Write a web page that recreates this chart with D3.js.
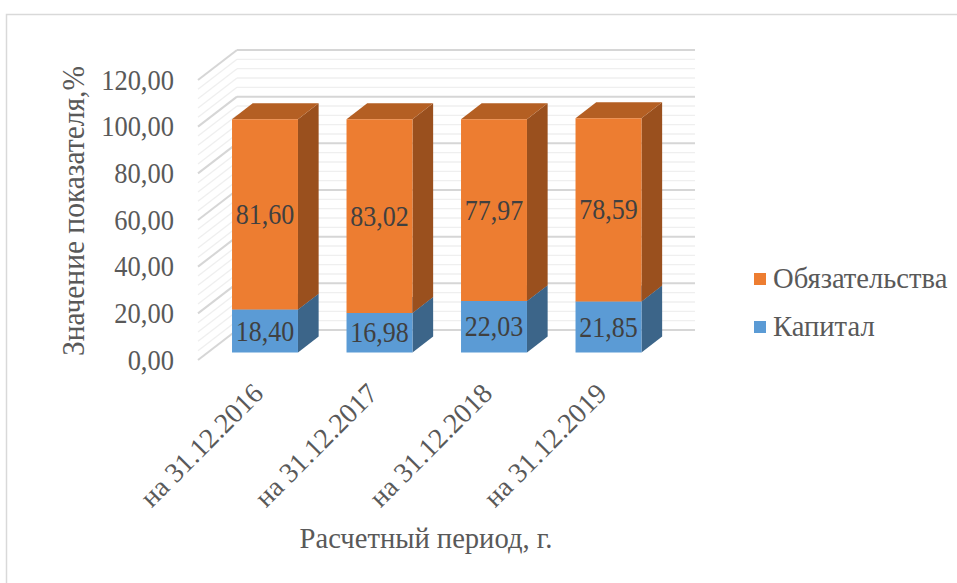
<!DOCTYPE html>
<html><head><meta charset="utf-8">
<script src="https://cdn.jsdelivr.net/npm/d3@7"></script>
<style>html,body{margin:0;padding:0;background:#fff;} svg{display:block;}</style>
</head><body>
<svg id="chart" width="957" height="583"></svg>
<script>
const categories = ["на 31.12.2016", "на 31.12.2017", "на 31.12.2018", "на 31.12.2019"];
const capital = [18.40, 16.98, 22.03, 21.85];
const liabilities = [81.60, 83.02, 77.97, 78.59];
const yTicks = [0, 20, 40, 60, 80, 100, 120];
const seriesNames = ["Обязательства", "Капитал"];
const yTitle = "Значение показателя,%";
const xTitle = "Расчетный период, г.";

const svg = d3.select("#chart");
const fmt = v => d3.format(".2f")(v).replace(".", ",");

// frame
svg.append("rect").attr("x", 6.5).attr("y", 14.5).attr("width", 1000).attr("height", 1000)
  .attr("fill", "none").attr("stroke", "#d9d9d9").attr("stroke-width", 1.5);

// back-wall scales
const y = d3.scaleLinear().domain([0, 120]).range([330, 50]);
const x = d3.scaleBand().domain(categories).range([237, 695]).paddingInner(0.424).paddingOuter(0.212);
const DX = -39, DY = 30; // back -> front depth vector
const tF = 0.75, tB = 0.22;

// gridlines: minor then major
const minor = d3.range(0, 121, 4).filter(v => v % 20 !== 0);
const grid = svg.append("g");
function gridLine(v, color, w) {
  grid.append("line").attr("x1", 237).attr("x2", 695).attr("y1", y(v)).attr("y2", y(v))
    .attr("stroke", color).attr("stroke-width", w);
  grid.append("line").attr("x1", 237).attr("y1", y(v)).attr("x2", 237 + DX).attr("y2", y(v) + DY)
    .attr("stroke", color).attr("stroke-width", w);
}
minor.forEach(v => gridLine(v, "#efefef", 1.3));
yTicks.forEach(v => gridLine(v, "#d6d6d6", 2));

// bars
const series = [
  {vals: capital, front: "#5b9bd5", top: "#4a7fb0", side: "#3c6589"},
  {vals: liabilities, front: "#ed7d31", top: "#b45f23", side: "#9a501e"}
];
const bars = svg.append("g");
const pt = (px, py, t) => [px + DX * t, py + DY * t];
categories.forEach((c, i) => {
  let base = 0;
  series.forEach(s => {
    const v0 = base, v1 = base + s.vals[i];
    base = v1;
    const xl = x(c), xr = x(c) + x.bandwidth();
    const fTL = pt(xl, y(v1), tF), fTR = pt(xr, y(v1), tF), fBR = pt(xr, y(v0), tF), fBL = pt(xl, y(v0), tF);
    const bTL = pt(xl, y(v1), tB), bTR = pt(xr, y(v1), tB), bBR = pt(xr, y(v0), tB);
    const poly = p => "M" + p.map(q => q.join(",")).join("L") + "Z";
    bars.append("path").attr("d", poly([fTR, bTR, bBR, fBR])).attr("fill", s.side);
    bars.append("path").attr("d", poly([fTL, bTL, bTR, fTR])).attr("fill", s.top);
    bars.append("path").attr("d", poly([fTL, fTR, fBR, fBL])).attr("fill", s.front);
  });
});

function txt(g, str, tx, ty, opts) {
  opts = opts || {};
  const sy = opts.sy || 1, rot = opts.rot || 0;
  return g.append("text")
    .attr("transform", `translate(${tx},${ty}) rotate(${rot}) scale(1,${sy})`)
    .attr("text-anchor", opts.anchor || "middle")
    .style("font-family", '"Liberation Serif", "DejaVu Serif", serif')
    .style("font-size", (opts.size || 26) + "px")
    .attr("fill", opts.color || "#595959").text(str);
}

// data labels
const labels = svg.append("g");
categories.forEach((c, i) => {
  const cx = x(c) + x.bandwidth() / 2 + DX * tF;
  let base = 0;
  series.forEach(s => {
    const mid = base + s.vals[i] / 2;
    base += s.vals[i];
    txt(labels, fmt(s.vals[i]), cx, y(mid) + DY * tF + 9.5, {size: 26, sy: 1.1, color: "#404040"});
  });
});

// y tick labels (front plane)
const ax = svg.append("g");
yTicks.forEach(v => {
  txt(ax, fmt(v), 174, y(v) + DY + 9.5, {size: 26.5, sy: 1.08, anchor: "end"});
});

// x tick labels
categories.forEach(c => {
  const cx = x(c) + x.bandwidth() / 2 + DX * tF;
  txt(ax, c, cx, 395, {size: 28, rot: -45, anchor: "end"});
});

// axis titles
txt(svg, xTitle, 426, 548, {size: 28.6, sy: 1.05});
txt(svg, yTitle, 84, 211, {size: 29.5, sy: 1.05, rot: -90});

// legend
const legend = svg.append("g");
[{n: seriesNames[0], c: "#ed7d31", y: 279}, {n: seriesNames[1], c: "#5b9bd5", y: 327}].forEach(d => {
  legend.append("rect").attr("x", 754).attr("y", d.y - 6).attr("width", 12).attr("height", 12).attr("fill", d.c);
  txt(legend, d.n, 773, d.y + 9, {size: 28.6, sy: 1.05, anchor: "start"});
});
</script>
</body></html>
